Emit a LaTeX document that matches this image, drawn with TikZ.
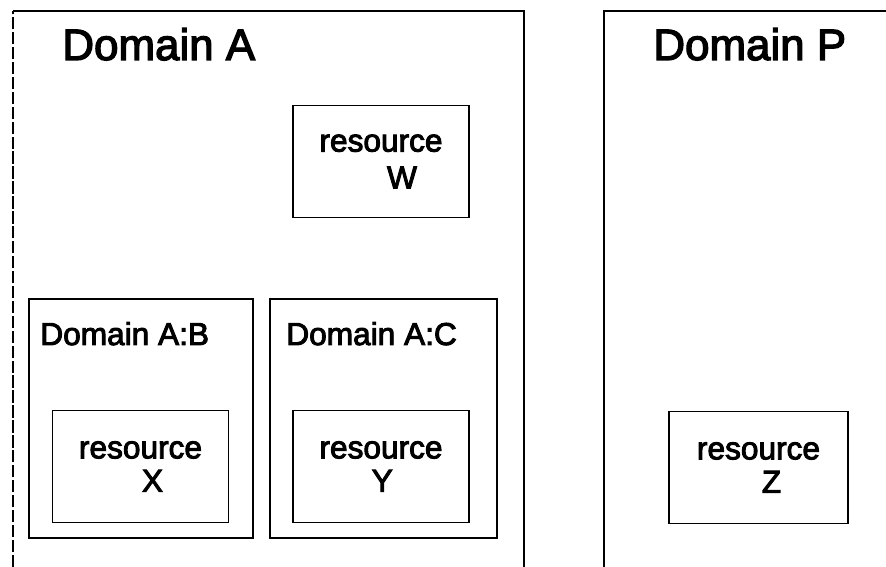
\documentclass[tikz,border=0pt]{standalone}
\usepackage{fontspec}
\setmainfont{Liberation Sans}
\newfontfamily\heavysans[FakeBold=3]{Liberation Sans}
\usetikzlibrary{positioning}

\begin{document}
\begin{tikzpicture}[x=0.02cm, y=-0.02cm,
        domaintitle/.style={anchor=base west, inner sep=0pt, font=\heavysans\fontsize{25}{30}\selectfont},
        subtitle/.style={anchor=base west, inner sep=0pt, font=\heavysans\fontsize{18}{19}\selectfont},
        subdomain/.style={draw, line width=0.6pt, inner sep=0pt},
        resbox/.style={draw, line width=0.6pt, minimum width=3.52cm, minimum height=2.24cm,
            align=center, inner sep=0pt, font=\heavysans\fontsize{18}{19}\selectfont}]
        \useasboundingbox (0, 0) rectangle (886, 567);

        % outer domains, open at the page edges
        \draw[line width=0.6pt] (13, 11) -- (524, 11) -- (524, 567);
        \draw[line width=0.6pt, dash pattern=on 7pt off 1.5pt] (13, 567) -- (13, 11);
        \draw[line width=0.6pt] (604, 567) -- (604, 11) -- (886, 11);

        \node[domaintitle] (domA) at (62, 60) {Domain A};
        \node[domaintitle] (domP) at (653, 60) {Domain P};

        % sub-domains of A
        \node[subdomain, minimum width=4.48cm, minimum height=4.78cm] (domAB) at (141, 418.5) {};
        \node[subdomain, minimum width=4.54cm, minimum height=4.78cm] (domAC) at (383.5, 418.5) {};
        \node[subtitle] (domABlbl) at (40, 345) {Domain A:B};
        \node[subtitle] (domAClbl) at (286, 345) {Domain A:C};

        % resources
        \node[resbox] (resW) at (381, 161.5) {resource\\[2pt]\hspace*{0.84cm}W};
        \node[resbox] (resX) at (140.5, 466.5) {resource\\\hspace*{0.48cm}X};
        \node[resbox] (resY) at (381, 466.5) {resource\\\hspace*{0.05cm}Y};
        \node[resbox, minimum width=3.58cm] (resZ) at (758.5, 467.5) {resource\\\hspace*{0.52cm}Z};
    \end{tikzpicture}
\end{document}
